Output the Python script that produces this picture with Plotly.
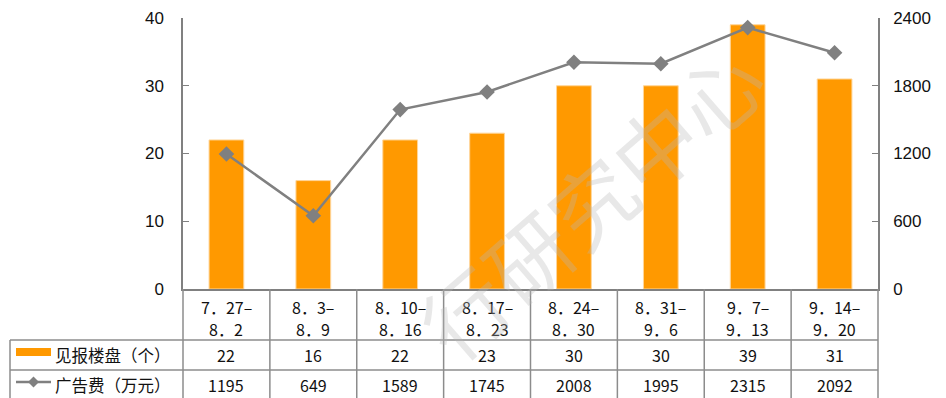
import plotly.graph_objects as go

cat_line1 = ["7．27–", "8．3–", "8．10–", "8．17–", "8．24–", "8．31–", "9．7–", "9．14–"]
cat_line2 = ["8．2", "8．9", "8．16", "8．23", "8．30", "9．6", "9．13", "9．20"]
categories = ["7.27-8.2", "8.3-8.9", "8.10-8.16", "8.17-8.23", "8.24-8.30", "8.31-9.6", "9.7-9.13", "9.14-9.20"]
projects = [22, 16, 22, 23, 30, 30, 39, 31]
ad_cost = [1195, 649, 1589, 1745, 2008, 1995, 2315, 2092]
series_names = ["见报楼盘（个）", "广告费（万元）"]
left_ticks = [0, 10, 20, 30, 40]
right_ticks = [0, 600, 1200, 1800, 2400]

W, H = 946, 398
L, R, T, B = 183, 878, 18, 289
ORANGE = "#FF9900"
GREY = "#808080"
LINEC = "#8C8C8C"
CJK = "Noto Sans CJK SC"


def px_x(p):
    return (p - L) / (R - L)


def px_y(p):
    return (B - p) / (B - T)


fig = go.Figure()
fig.add_trace(go.Bar(
    x=categories, y=projects, name=series_names[0], width=0.4,
    marker=dict(color=ORANGE, line=dict(color="#FFD69A", width=1)),
))
fig.add_trace(go.Scatter(
    x=categories, y=ad_cost, name=series_names[1], yaxis="y2",
    mode="lines+markers",
    line=dict(color=GREY, width=2.5),
    marker=dict(symbol="diamond", size=12, color=GREY),
))

shapes = []
n = len(categories)
for i in range(n + 1):
    xp = i / n
    shapes.append(dict(type="line", xref="paper", yref="paper",
                       x0=xp, x1=xp, y0=px_y(B), y1=px_y(H + 5),
                       line=dict(color=LINEC, width=1.5)))
shapes.append(dict(type="line", xref="paper", yref="paper",
                   x0=px_x(10), x1=px_x(10), y0=px_y(340), y1=px_y(H + 5),
                   line=dict(color=LINEC, width=1.5)))
for yy in (340, 370):
    shapes.append(dict(type="line", xref="paper", yref="paper",
                       x0=px_x(10), x1=1, y0=px_y(yy), y1=px_y(yy),
                       line=dict(color=LINEC, width=1.5)))
shapes.append(dict(type="rect", xref="paper", yref="paper",
                   x0=px_x(16), x1=px_x(51), y0=px_y(348), y1=px_y(356),
                   fillcolor=ORANGE, line=dict(width=0)))
shapes.append(dict(type="line", xref="paper", yref="paper",
                   x0=px_x(16), x1=px_x(51), y0=px_y(382), y1=px_y(382),
                   line=dict(color=GREY, width=2.5)))
cx, cy, d = 33.5, 382, 5.5
shapes.append(dict(type="path", xref="paper", yref="paper",
                   path=f"M {px_x(cx-d)},{px_y(cy)} L {px_x(cx)},{px_y(cy-d)} L {px_x(cx+d)},{px_y(cy)} L {px_x(cx)},{px_y(cy+d)} Z",
                   fillcolor=GREY, line=dict(width=0)))

TXT = dict(family=CJK, size=16, color="#111")
annotations = []


def cell(x, xref, y, text, xanchor="center", font=TXT):
    annotations.append(dict(x=x, xref=xref, y=px_y(y), yref="paper", text=text,
                            xanchor=xanchor, yanchor="middle", showarrow=False, font=font))


for i, c in enumerate(categories):
    cell(c, "x", 307, cat_line1[i])
    cell(c, "x", 329, cat_line2[i])
    cell(c, "x", 355, str(projects[i]))
    cell(c, "x", 385, str(ad_cost[i]))
cell(px_x(53), "paper", 355, series_names[0], xanchor="left", font=dict(family=CJK, size=16.5, color="#111"))
cell(px_x(53), "paper", 385, series_names[1], xanchor="left", font=dict(family=CJK, size=16.5, color="#111"))

# faint watermark
annotations.append(dict(x=px_x(590), xref="paper", y=px_y(200), yref="paper", text="行研究中心",
                        xanchor="center", yanchor="middle",
                        textangle=-41, showarrow=False,
                        font=dict(family=CJK, size=84, color="rgba(185,185,185,0.32)")))

fig.update_layout(
    width=W, height=H,
    margin=dict(l=L, r=W - R, t=T, b=H - B, autoexpand=False),
    paper_bgcolor="white", plot_bgcolor="white",
    showlegend=False,
    xaxis=dict(range=[-0.5, n - 0.5], showticklabels=False, ticks="",
               showline=True, linecolor=GREY, linewidth=2, showgrid=False,
               zeroline=False, automargin=False, fixedrange=True),
    yaxis=dict(range=[0, 40], tickvals=left_ticks, ticks="inside", ticklen=6,
               tickcolor=GREY, showline=True, linecolor=GREY, linewidth=1.5,
               showgrid=False, zeroline=False, automargin=False,
               ticklabelstandoff=14,
               tickfont=dict(family="Liberation Sans", size=17, color="#111")),
    yaxis2=dict(range=[0, 2400], tickvals=right_ticks, overlaying="y", side="right",
                ticks="inside", ticklen=6, tickcolor=GREY, showline=True,
                linecolor=GREY, linewidth=1.5, showgrid=False, zeroline=False,
                automargin=False, ticklabelstandoff=10,
                tickfont=dict(family="Liberation Sans", size=17, color="#111")),
    shapes=shapes,
    annotations=annotations,
)

fig.write_html("out.html")
